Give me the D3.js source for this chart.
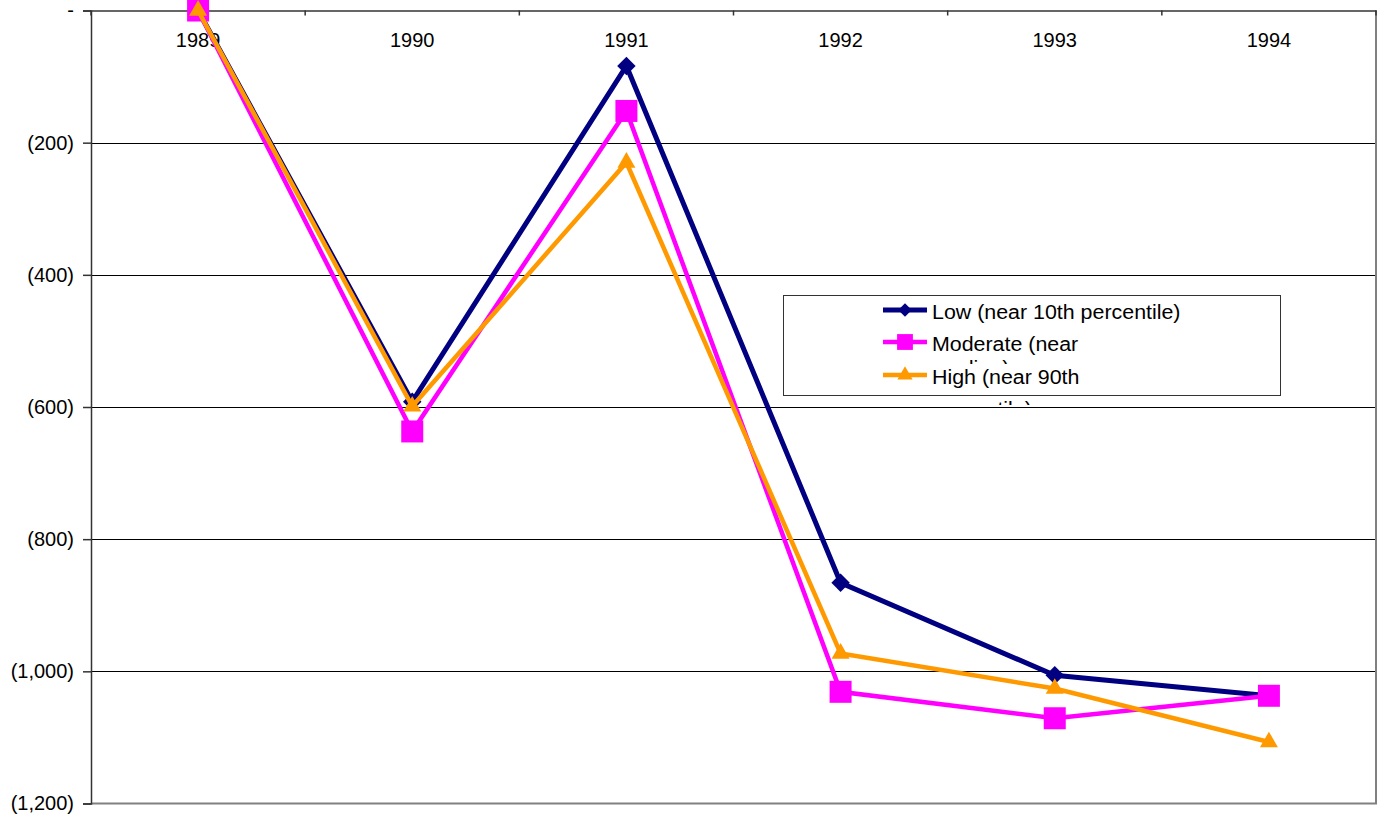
<!DOCTYPE html>
<html><head><meta charset="utf-8">
<script src="https://cdn.jsdelivr.net/npm/d3@7"></script>
<style>body{margin:0;background:#fff;} text{font-family:"Liberation Sans",Arial,sans-serif;}</style>
</head><body>
<svg id="c" width="1387" height="821"></svg>
<script>
const years = ["1989","1990","1991","1992","1993","1994"];
const lowVals = [0, -592, -84, -866, -1006, -1037];
const modVals = [0, -637, -152, -1031, -1071, -1037];
const highVals = [0, -599, -230, -973, -1026, -1107];
const yTicks = [0, -200, -400, -600, -800, -1000, -1200];
const seriesNames = ["Low (near 10th percentile)", "Moderate (near", "High (near 90th"];
const seriesWrap = ["", "median)", "percentile)"];
const seriesColors = ["#000080", "#FF00FF", "#FF9900"];

const svg = d3.select("#c");
const L = 91, R = 1376, T = 10.5, B = 803.5;
const x = d3.scaleBand().domain(years).range([L, R]);
const y = d3.scaleLinear().domain([-1200, 0]).range([B, T]);

// gridlines
svg.append("g").selectAll("line").data(yTicks.filter(v => v < 0 && v > -1200)).join("line")
  .attr("x1", L).attr("x2", R).attr("y1", d => Math.round(y(d)) + 0.5).attr("y2", d => Math.round(y(d)) + 0.5)
  .attr("stroke", "#000").attr("stroke-width", 1);

// plot border right/bottom
svg.append("path").attr("d", `M${L},${B} H${R} V${T}`).attr("fill", "none")
  .attr("stroke", "#808080").attr("stroke-width", 2);

// y axis
const fmt = d3.format(",");
const yAxis = d3.axisLeft(y).tickValues(yTicks).tickSize(8).tickPadding(9)
  .tickFormat(v => v === 0 ? "-" : "(" + fmt(-v) + ")");
const gy = svg.append("g").attr("transform", `translate(${L},0)`).call(yAxis);
gy.select(".domain").attr("stroke", "#333").attr("stroke-width", 1.5);
gy.selectAll(".tick line").attr("stroke", "#333").attr("stroke-width", 1.5);
gy.selectAll("text").attr("font-size", 20).attr("fill", "#000").attr("font-family", "Liberation Sans, Arial, sans-serif");

// x axis at top (value 0)
const xAxis = d3.axisBottom(x).tickSize(0).tickPadding(22);
const gx = svg.append("g").attr("transform", `translate(0,${T})`).call(xAxis);
gx.select(".domain").attr("stroke", "#333").attr("stroke-width", 1.5);
gx.selectAll("text").attr("font-size", 20).attr("fill", "#000").attr("font-family", "Liberation Sans, Arial, sans-serif");
// boundary ticks
const bounds = years.map(d => x(d)).concat([x(years[years.length-1]) + x.bandwidth()]);
gx.append("g").selectAll("line").data(bounds).join("line")
  .attr("x1", d => d).attr("x2", d => d).attr("y1", 0).attr("y2", 5)
  .attr("stroke", "#333").attr("stroke-width", 1.5);

const cx = d => x(d) + x.bandwidth() / 2;
const line = d3.line().x(d => cx(d.year)).y(d => y(d.v));
const allSeries = [lowVals, modVals, highVals].map(vals => years.map((yr, i) => ({year: yr, v: vals[i]})));

const symbols = [
  {type: d3.symbolSquare, size: 170, rot: 45},
  {type: d3.symbolSquare, size: 484, rot: 0},
  {type: d3.symbolTriangle, size: 140, rot: 0}
];
const legSymbols = [
  {type: d3.symbolSquare, size: 90, rot: 45},
  {type: d3.symbolSquare, size: 250, rot: 0},
  {type: d3.symbolTriangle, size: 100, rot: 0}
];
const widths = [5, 4.5, 4.5];

allSeries.forEach((s, i) => {
  svg.append("path").datum(s).attr("d", line).attr("fill", "none")
    .attr("stroke", seriesColors[i]).attr("stroke-width", widths[i]).attr("stroke-linejoin", "miter");
  svg.append("g").selectAll("path").data(s).join("path")
    .attr("d", d3.symbol().type(symbols[i].type).size(symbols[i].size))
    .attr("transform", d => `translate(${cx(d.year)},${y(d.v)}) rotate(${symbols[i].rot})`)
    .attr("fill", seriesColors[i]);
});

// legend
const lg = svg.append("g");
lg.append("rect").attr("x", 783.5).attr("y", 295.5).attr("width", 497).attr("height", 100)
  .attr("fill", "#fff").attr("stroke", "#333").attr("stroke-width", 1);
const rowY = [310, 342, 375];
const defs = svg.append("defs");
const stretch = `translate(932,0) scale(1.07,1) translate(-932,0)`;
seriesNames.forEach((name, i) => {
  lg.append("line").attr("x1", 883).attr("x2", 927).attr("y1", rowY[i]).attr("y2", rowY[i])
    .attr("stroke", seriesColors[i]).attr("stroke-width", widths[i]);
  lg.append("path").attr("d", d3.symbol().type(legSymbols[i].type).size(legSymbols[i].size))
    .attr("transform", `translate(905,${rowY[i]}) rotate(${legSymbols[i].rot})`)
    .attr("fill", seriesColors[i]);
  lg.append("text").attr("x", 932).attr("y", rowY[i] + 9).attr("font-size", 20).attr("fill", "#000")
    .attr("transform", stretch).text(name);
});
// clipped wrapped second lines (only ascender tops visible, as in the reference)
const wraps = [{i: 1, base: 375, c0: 359, c1: 364}, {i: 2, base: 416, c0: 400, c1: 405}];
wraps.forEach((w, k) => {
  defs.append("clipPath").attr("id", "clip" + k).append("rect")
    .attr("x", 900).attr("y", w.c0).attr("width", 300).attr("height", w.c1 - w.c0);
  lg.append("g").attr("clip-path", `url(#clip${k})`)
    .append("text").attr("x", 932).attr("y", w.base).attr("font-size", 20).attr("fill", "#000")
    .attr("transform", stretch).text(seriesWrap[w.i]);
});
</script>
</body></html>
